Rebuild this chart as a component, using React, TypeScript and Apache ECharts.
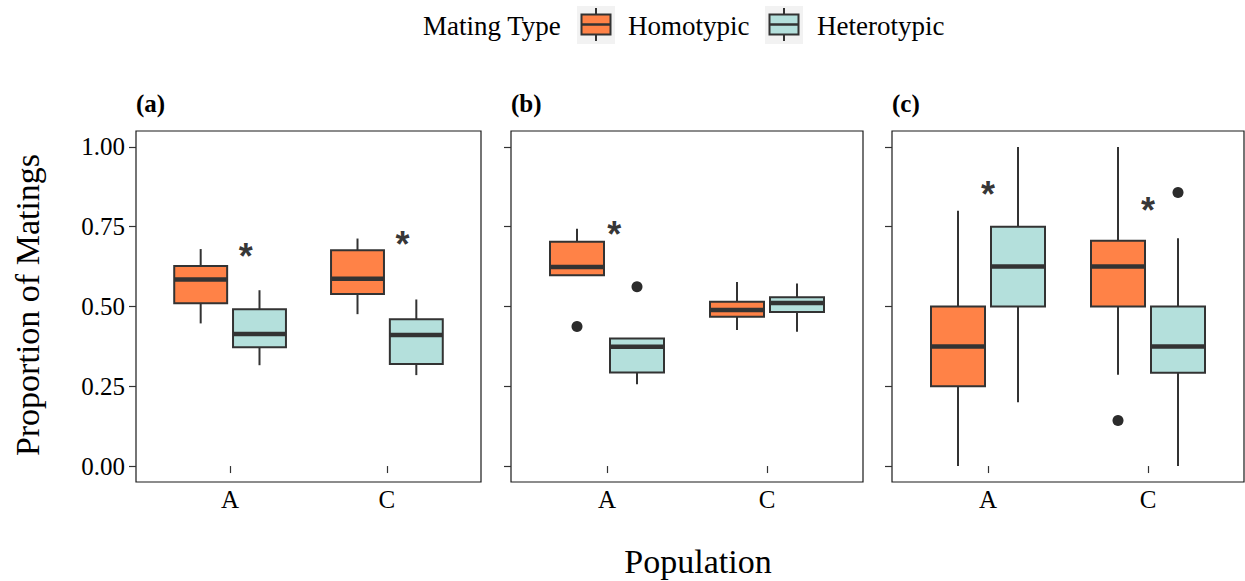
import React, { useEffect, useRef } from "react";
import * as echarts from "echarts";

// ---------- data ----------
const populations = ["A", "C"];
const matingTypes = ["Homotypic", "Heterotypic"];
const panelTitles = ["(a)", "(b)", "(c)"];
const yTicks = [0, 0.25, 0.5, 0.75, 1];

// box stats per population [A, C]: [lower whisker, Q1, median, Q3, upper whisker]
const panelA_homotypic = [
  [0.447, 0.51, 0.585, 0.627, 0.68],
  [0.476, 0.539, 0.587, 0.676, 0.713],
];
const panelA_heterotypic = [
  [0.316, 0.372, 0.414, 0.491, 0.551],
  [0.285, 0.32, 0.411, 0.46, 0.522],
];
const panelB_homotypic = [
  [0.598, 0.598, 0.624, 0.703, 0.744],
  [0.426, 0.468, 0.489, 0.515, 0.577],
];
const panelB_heterotypic = [
  [0.256, 0.293, 0.374, 0.4, 0.4],
  [0.421, 0.483, 0.511, 0.529, 0.572],
];
const panelC_homotypic = [
  [0, 0.25, 0.375, 0.5, 0.8],
  [0.286, 0.5, 0.625, 0.706, 1.0],
];
const panelC_heterotypic = [
  [0.2, 0.5, 0.625, 0.75, 1.0],
  [0, 0.292, 0.375, 0.5, 0.714],
];

// outliers: [population index, value]
const panelA_homotypic_out: number[][] = [];
const panelA_heterotypic_out: number[][] = [];
const panelB_homotypic_out = [[0, 0.437]];
const panelB_heterotypic_out = [[0, 0.562]];
const panelC_homotypic_out = [[1, 0.143]];
const panelC_heterotypic_out = [[1, 0.857]];

// significance stars: [x position (A=1, C=2), y value]
const panelA_stars = [
  [1.1, 0.683],
  [2.1, 0.718],
];
const panelB_stars = [[1.046, 0.752]];
const panelC_stars = [
  [1.0, 0.875],
  [2.0, 0.825],
];

const panels = [
  { homo: panelA_homotypic, hetero: panelA_heterotypic, homoOut: panelA_homotypic_out, heteroOut: panelA_heterotypic_out, stars: panelA_stars },
  { homo: panelB_homotypic, hetero: panelB_heterotypic, homoOut: panelB_homotypic_out, heteroOut: panelB_heterotypic_out, stars: panelB_stars },
  { homo: panelC_homotypic, hetero: panelC_heterotypic, homoOut: panelC_homotypic_out, heteroOut: panelC_heterotypic_out, stars: panelC_stars },
];

// ---------- style / layout ----------
const COLORS = ["#FF8247", "#B4E0DC"];
const STROKE = "#333333";
const SERIF = "Liberation Serif";
const DODGE = [-0.1875, 0.1875];
const HALF_W = 0.16875;
const gridLayout = [
  { left: 136, width: 345 },
  { left: 511, width: 352 },
  { left: 892, width: 352 },
];
const GRID_TOP = 131;
const GRID_H = 351;

function App() {
  const ref = useRef<HTMLDivElement>(null);
  useEffect(() => {
    document.body.style.margin = "0";
    const chart = echarts.init(ref.current!, undefined, { renderer: "svg" });

    const renderBox = (color: string) => (params: any, api: any) => {
      const xc = api.value(0);
      const lo = api.value(1), q1 = api.value(2), md = api.value(3), q3 = api.value(4), hi = api.value(5);
      const [xL, yQ3] = api.coord([xc - HALF_W, q3]);
      const [xR, yQ1] = api.coord([xc + HALF_W, q1]);
      const [cx, yMd] = api.coord([xc, md]);
      const yLo = api.coord([xc, lo])[1];
      const yHi = api.coord([xc, hi])[1];
      const ls = { stroke: STROKE, lineWidth: 2 };
      return {
        type: "group",
        children: [
          { type: "line", shape: { x1: cx, y1: yHi, x2: cx, y2: yQ3 }, style: ls },
          { type: "line", shape: { x1: cx, y1: yQ1, x2: cx, y2: yLo }, style: ls },
          { type: "rect", shape: { x: xL, y: yQ3, width: xR - xL, height: yQ1 - yQ3 }, style: { fill: color, stroke: STROKE, lineWidth: 2 } },
          { type: "line", shape: { x1: xL, y1: yMd, x2: xR, y2: yMd }, style: { stroke: STROKE, lineWidth: 4.5 } },
        ],
      };
    };

    const grids: any[] = [];
    const xAxes: any[] = [];
    const yAxes: any[] = [];
    const series: any[] = [];

    panels.forEach((p, i) => {
      grids.push({
        left: gridLayout[i].left,
        width: gridLayout[i].width,
        top: GRID_TOP,
        height: GRID_H,
        show: true,
        borderColor: "#1a1a1a",
        borderWidth: 1.2,
        backgroundColor: "transparent",
      });
      xAxes.push({
        gridIndex: i,
        type: "value",
        min: 0.4,
        max: 2.6,
        splitLine: { show: false },
        axisLine: { show: false },
        axisTick: { show: true, length: 7, customValues: [1, 2], lineStyle: { color: STROKE, width: 1.2 } },
        axisLabel: {
          customValues: [1, 2],
          formatter: (v: number) => populations[Math.round(v) - 1],
          fontSize: 25,
          fontFamily: SERIF,
          color: "#000",
          margin: 5,
        },
      });
      yAxes.push({
        gridIndex: i,
        type: "value",
        min: -0.05,
        max: 1.05,
        splitLine: { show: false },
        axisLine: { show: false },
        axisTick: { show: true, length: 7, customValues: yTicks, lineStyle: { color: STROKE, width: 1.2 } },
        axisLabel: {
          show: i === 0,
          customValues: yTicks,
          formatter: (v: number) => v.toFixed(2),
          fontSize: 25,
          fontFamily: SERIF,
          color: "#000",
          margin: 11,
        },
      });
      [p.homo, p.hetero].forEach((stats, k) => {
        series.push({
          type: "custom",
          name: matingTypes[k],
          xAxisIndex: i,
          yAxisIndex: i,
          renderItem: renderBox(COLORS[k]),
          encode: { x: 0, y: [1, 2, 3, 4, 5] },
          data: stats.map((s, j) => [j + 1 + DODGE[k], ...s]),
          z: 2,
        });
      });
      [p.homoOut, p.heteroOut].forEach((outs, k) => {
        if (!outs.length) return;
        series.push({
          type: "scatter",
          name: matingTypes[k] + " outliers",
          xAxisIndex: i,
          yAxisIndex: i,
          symbolSize: 11,
          itemStyle: { color: "#2b2b2b", opacity: 1 },
          data: outs.map(([j, v]) => [j + 1 + DODGE[k], v]),
          z: 3,
        });
      });
      series.push({
        type: "scatter",
        name: "significance",
        xAxisIndex: i,
        yAxisIndex: i,
        symbolSize: 1,
        itemStyle: { color: "transparent" },
        data: p.stars,
        label: {
          show: true,
          formatter: "*",
          position: "inside",
          fontSize: 36,
          fontWeight: "bold",
          fontFamily: "Liberation Sans",
          color: "#000",
          offset: [0, 8],
        },
        z: 4,
      });
    });

    const graphic: any[] = [];
    panelTitles.forEach((t, i) => {
      graphic.push({
        type: "text",
        x: gridLayout[i].left,
        y: 103,
        style: { text: t, font: `bold 25px "${SERIF}"`, fill: "#000", align: "left", verticalAlign: "middle" },
      });
    });
    graphic.push({
      type: "text",
      x: 698,
      y: 561,
      style: { text: "Population", font: `34px "${SERIF}"`, fill: "#000", align: "center", verticalAlign: "middle" },
    });
    graphic.push({
      type: "text",
      x: 27,
      y: 305,
      rotation: Math.PI / 2,
      style: { text: "Proportion of Matings", font: `34px "${SERIF}"`, fill: "#000", align: "center", verticalAlign: "middle" },
    });
    // legend
    graphic.push({
      type: "text",
      x: 423,
      y: 26,
      style: { text: "Mating Type", font: `27px "${SERIF}"`, fill: "#000", align: "left", verticalAlign: "middle" },
    });
    const keys = [
      { x: 577, textX: 628 },
      { x: 765, textX: 817 },
    ];
    keys.forEach((kp, k) => {
      const cx = kp.x + 19;
      graphic.push({ type: "rect", shape: { x: kp.x, y: 6, width: 38, height: 38 }, style: { fill: "#F2F2F2" } });
      graphic.push({ type: "line", shape: { x1: cx, y1: 8, x2: cx, y2: 41 }, style: { stroke: STROKE, lineWidth: 2 } });
      graphic.push({ type: "rect", shape: { x: kp.x + 4.5, y: 14.5, width: 29, height: 20 }, style: { fill: COLORS[k], stroke: STROKE, lineWidth: 2 } });
      graphic.push({ type: "line", shape: { x1: kp.x + 4.5, y1: 24.5, x2: kp.x + 33.5, y2: 24.5 }, style: { stroke: STROKE, lineWidth: 2.5 } });
      graphic.push({
        type: "text",
        x: kp.textX,
        y: 26,
        style: { text: matingTypes[k], font: `27px "${SERIF}"`, fill: "#000", align: "left", verticalAlign: "middle" },
      });
    });

    chart.setOption({
      animation: false,
      backgroundColor: "#fff",
      grid: grids,
      xAxis: xAxes,
      yAxis: yAxes,
      series,
      graphic,
    });
    return () => chart.dispose();
  }, []);
  return <div ref={ref} style={{ width: 1245, height: 581 }} />;
}

export default App;
